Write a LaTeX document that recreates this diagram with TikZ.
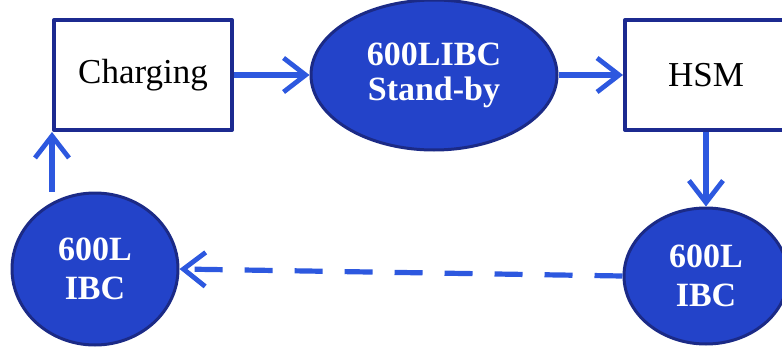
\documentclass[tikz,border=0pt]{standalone}
\usepackage{fontspec}
\setmainfont{Liberation Serif}
\usetikzlibrary{shapes.geometric,arrows.meta}
\definecolor{ibcblue}{HTML}{2343C9}
\definecolor{ibcline}{HTML}{1B2A86}
\definecolor{flowblue}{HTML}{2D58DF}
\definecolor{boxline}{HTML}{1C2A90}
\tikzset{
  stagebox/.style={draw=boxline, line width=2pt, fill=white, minimum width=89pt, minimum height=55pt, inner sep=0pt, font=\fontsize{17.5}{19}\selectfont},
  ibc/.style={ellipse, draw=ibcline, line width=1.5pt, fill=ibcblue, text=white, inner sep=0pt, align=center, font=\fontsize{17}{19.5}\selectfont\bfseries},
  flow/.style={draw=flowblue, line width=2.6pt, -{Straight Barb[length=11pt, width=17pt, line width=2.4pt]}},
}
\begin{document}
\begin{tikzpicture}[x=0.5pt, y=-0.5pt, line join=round, line cap=butt]
            \useasboundingbox (0,0) rectangle (782,348);
            \node[stagebox] (charging) at (143,75) {Charging};
            \node[ibc, minimum width=123pt, minimum height=75pt] (standby) at (434,75) {600LIBC\\[-2pt]Stand-by};
            \node[stagebox, minimum width=81pt] (hsm) at (706,75) {HSM};
            \node[ibc, minimum width=82pt, minimum height=68pt] (ibcr) at (706,276) {600L\\IBC};
            \node[ibc, minimum width=83pt, minimum height=76pt] (ibcl) at (95,269) {600L\\IBC};
            \draw[flow] (charging.east) -- (standby.west);
            \draw[flow] (standby.east) -- (hsm.west);
            \draw[flow] (hsm.south) -- (ibcr.north);
            \draw[flow, dash pattern=on 14pt off 11pt] (ibcr.west) -- (ibcl.east); %return
            \draw[flow] (ibcl.north -| charging.south west) -- (charging.south west);
        \end{tikzpicture}
\end{document}
